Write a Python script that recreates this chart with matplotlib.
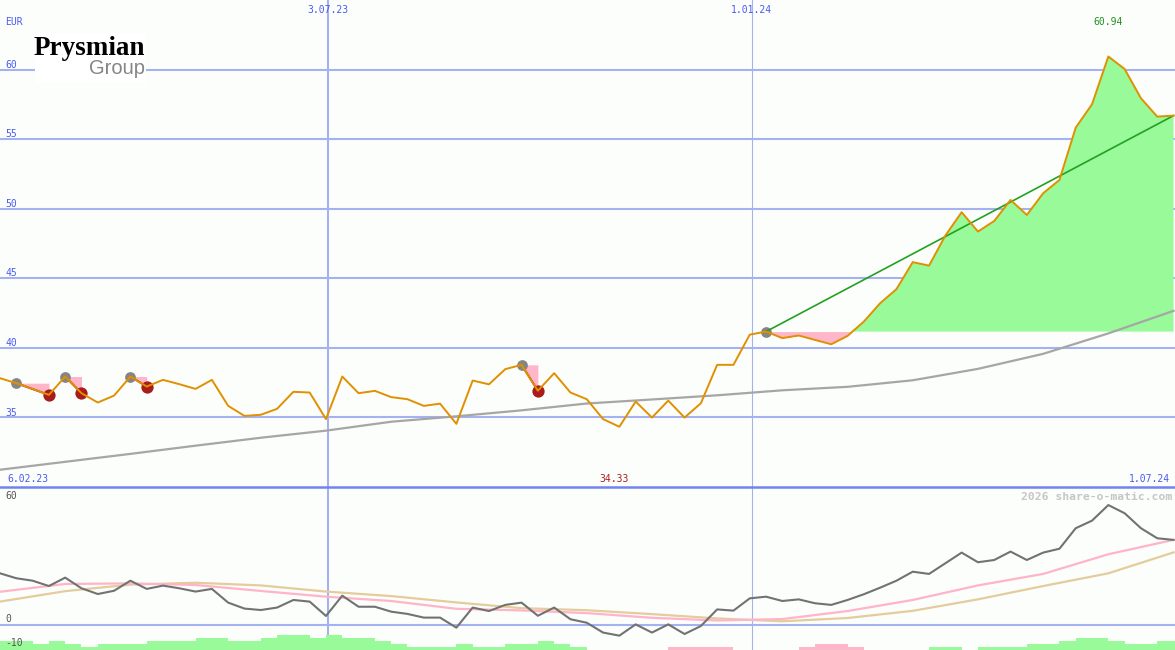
import matplotlib
matplotlib.use("Agg")
import matplotlib.pyplot as plt
import numpy as np
from matplotlib.lines import Line2D
from matplotlib.patches import Rectangle

# weekly closing prices, EUR (6.02.23 .. 1.07.24)
price = [
    37.82, 37.46, 37.05, 36.62, 37.94, 36.74, 36.07, 36.57, 37.94, 37.22,
    37.70, 37.39, 37.05, 37.70, 35.83, 35.11, 35.19, 35.62, 36.84, 36.79,
    34.88, 37.94, 36.74, 36.91, 36.46, 36.31, 35.83, 35.99, 34.54, 37.65,
    37.38, 38.47, 38.78, 36.92, 38.18, 36.79, 36.31, 34.88, 34.33, 36.14,
    34.99, 36.21, 34.99, 36.02, 38.78, 38.78, 40.95, 41.17, 40.70, 40.89,
    40.57, 40.26, 40.86, 41.89, 43.21, 44.22, 46.16, 45.91, 48.07, 49.75,
    48.36, 49.12, 50.63, 49.55, 51.11, 52.07, 55.83, 57.51, 60.94, 60.04,
    57.94, 56.62, 56.69,
]

# long moving average, read every 4th week
ma_idx = [0, 4, 8, 12, 16, 20, 24, 28, 32, 36, 40, 44, 48, 52, 56, 60, 64, 68, 72]
ma_long = [31.24, 31.81, 32.38, 32.97, 33.54, 34.05, 34.69, 35.08, 35.51, 36.00,
           36.29, 36.59, 36.95, 37.20, 37.67, 38.49, 39.57, 41.04, 42.66]

# lower panel oscillator
osc = [
    25.2, 22.8, 21.6, 19.0, 23.1, 17.9, 15.1, 16.7, 21.6, 17.6,
    19.2, 17.9, 16.3, 17.6, 10.9, 8.0, 7.3, 8.5, 12.2, 11.4,
    4.4, 14.3, 8.9, 8.9, 6.5, 5.4, 3.6, 3.6, -1.3, 8.5,
    6.8, 9.8, 10.9, 4.5, 8.5, 2.8, 1.1, -3.7, -5.2, 0.3,
    -3.7, 0.3, -4.4, -0.5, 7.6, 7.0, 13.0, 13.8, 11.7, 12.5,
    10.6, 9.8, 12.2, 15.0, 18.2, 21.6, 26.0, 24.9, 30.1, 35.3,
    30.6, 31.7, 35.8, 31.7, 35.3, 37.2, 47.2, 50.9, 58.5, 54.5,
    47.2, 42.3, 41.5,
]
osc_fast = [16.2, 20.0, 20.3, 19.5, 16.6, 13.8, 11.7, 7.9, 7.1, 5.8,
            3.5, 2.2, 2.9, 6.8, 12.2, 19.3, 24.9, 34.5, 41.5]
osc_slow = [11.4, 16.5, 19.7, 20.6, 19.3, 16.3, 14.1, 11.0, 8.2, 7.2,
            5.3, 3.2, 1.8, 3.4, 6.9, 12.5, 19.0, 25.2, 35.4]

# histogram levels (sign = colour)
hist = [
    3, 3, 2, 3, 2, 1, 2, 2, 2, 3,
    3, 3, 4, 4, 3, 3, 4, 5, 5, 4,
    5, 4, 4, 3, 2, 1, 1, 1, 2, 1,
    1, 2, 2, 3, 2, 1, 0, 0, 0, 0,
    0, -1, -1, -1, -1, 0, 0, 0, 0, -1,
    -2, -2, -1, 0, 0, 0, 0, 1, 1, 0,
    1, 1, 1, 2, 2, 3, 4, 4, 3, 2,
    2, 3, 3,
]

signals = [(1, 3), (4, 5), (8, 9), (32, 33)]  # (buy-ish point, sell point)
trend_start = 47

date_labels = ["3.07.23", "1.01.24"]
date_pos = [20.12, 46.13]
first_date, last_date = "6.02.23", "1.07.24"
y_ticks = [60, 55, 50, 45, 40, 35]

BG = "#fcfefc"
GRID = "#a4b2f2"
BLUE_TXT = "#4a5af0"
ORANGE = "#e09000"
PINK = "#ffb6c8"
GREEN_FILL = "#98fa98"

W, H = 1175, 650
fig = plt.figure(figsize=(W / 100, H / 100), dpi=100)
fig.patch.set_facecolor(BG)
split = 163 / H
ax = fig.add_axes([0, split, 1, 1 - split])
ax2 = fig.add_axes([0, 0, 1, split])
for a in (ax, ax2):
    a.set_axis_off()
    a.set_xlim(0, 72.09)
ax.set_ylim(30, 65)
ax2.set_ylim(-12.2, 67.3)

x = np.arange(len(price))
p = np.array(price)

# grid
for v in y_ticks:
    ax.axhline(v, color=GRID, lw=1.5, zorder=1)
for a in (ax, ax2):
    a.axvline(date_pos[0], color=GRID, lw=1.5, zorder=1)
    a.axvline(date_pos[1], color=GRID, lw=0.8, zorder=1)
ax2.axhline(0, color=GRID, lw=1.5, zorder=1)
fig.add_artist(Line2D([0, 1], [split, split], transform=fig.transFigure,
                      color="#7282ee", lw=1.8, zorder=5))

# gain / loss area since last signal
base = p[trend_start]
xs, ps = x[trend_start:], p[trend_start:]
ax.fill_between(xs, ps, base, where=ps >= base, interpolate=True,
                color=GREEN_FILL, lw=0, zorder=2)
ax.fill_between(xs, ps, base, where=ps <= base, interpolate=True,
                color=PINK, lw=0, zorder=2)

for g, r in signals:
    ax.fill_between(x[g:r + 1], p[g:r + 1], p[g], color=PINK, lw=0, zorder=2)
    ax.plot([g, r], [p[g], p[r]], color="#a81c1c", lw=1.4, zorder=3)
    ax.scatter([g], [p[g]], s=60, color="#858585", lw=0, zorder=4)
    ax.scatter([r], [p[r]], s=78, color="#a81c1c", lw=0, zorder=4)
ax.scatter([trend_start], [base], s=60, color="#858585", lw=0, zorder=4)

ax.plot(ma_idx, ma_long, color="#a6a6a6", lw=1.6, zorder=3)
ax.plot([trend_start, x[-1]], [base, p[-1]], color="#22a022", lw=1.2, zorder=4)
ax.plot(x, p, color=ORANGE, lw=1.4, zorder=5)

# lower panel
h = np.array(hist)
ax2.bar(x, np.abs(h) * 1.5, bottom=-12.2, width=1.0, align="edge",
        color=[GREEN_FILL if v > 0 else PINK for v in h], lw=0, zorder=2)
ax2.plot(ma_idx, osc_slow, color="#e4cc9c", lw=1.6, zorder=3)
ax2.plot(ma_idx, osc_fast, color="#ffb4c8", lw=1.6, zorder=3)
ax2.plot(x, osc, color="#727272", lw=1.5, zorder=4)

# labels
mono = dict(family="DejaVu Sans Mono", fontsize=7)
for v in y_ticks:
    ax.annotate(str(v), xy=(0, v), xycoords=("axes fraction", "data"),
                xytext=(3.6, 1.3), textcoords="offset points",
                va="baseline", color=BLUE_TXT, **mono)
ax.text(5 / W, 1 - 25 / 487, "EUR", transform=ax.transAxes,
        va="baseline", color=BLUE_TXT, **mono)
for lab, pos in zip(date_labels, date_pos):
    ax.text(pos, 1 - 12.7 / 487, lab, transform=ax.get_xaxis_transform(),
            ha="center", va="baseline", color=BLUE_TXT, **mono)
ax.text(7 / W, 5.3 / 487, first_date, transform=ax.transAxes,
        va="baseline", color=BLUE_TXT, **mono)
ax.text(1 - 5 / W, 5.3 / 487, last_date, transform=ax.transAxes,
        ha="right", va="baseline", color=BLUE_TXT, **mono)
imin, imax = int(np.argmin(p)), int(np.argmax(p))
ax.text(imin - 0.3, 5.3 / 487, f"{p[imin]:.2f}", transform=ax.get_xaxis_transform(),
        ha="center", va="baseline", color="#a82020", **mono)
ax.text(imax, 1 - 25 / 487, f"{p[imax]:.2f}", transform=ax.get_xaxis_transform(),
        ha="center", va="baseline", color="#229022", **mono)

for v, yb in [(60, 61.3), (0, 1.3), (-10, -10.1)]:
    ax2.annotate(str(v), xy=(0, yb), xycoords=("axes fraction", "data"),
                 xytext=(3.6, 0), textcoords="offset points",
                 va="baseline", color="#555555", **mono)
ax2.text(1 - 3 / W, 1 - 13 / 163, "2026 share-o-matic.com", transform=ax2.transAxes,
         ha="right", va="baseline", color="#c6c6c6", family="DejaVu Sans Mono",
         fontsize=8.2, fontweight="bold", zorder=6)

# logo
fig.add_artist(Rectangle((35 / W, 1 - 83 / H), 111 / W, 50 / H,
                         transform=fig.transFigure, facecolor="white",
                         edgecolor="none", zorder=6))
fig.text(145 / W, 1 - 55 / H, "Prysmian", ha="right", va="baseline",
         family="Liberation Serif", fontweight="bold", fontsize=19.5,
         color="black", zorder=7)
fig.text(145 / W, 1 - 74 / H, "Group", ha="right", va="baseline",
         family="Liberation Sans", fontsize=14.5, color="#858585", zorder=7)

fig.savefig("out.png", dpi=100, facecolor=BG)
